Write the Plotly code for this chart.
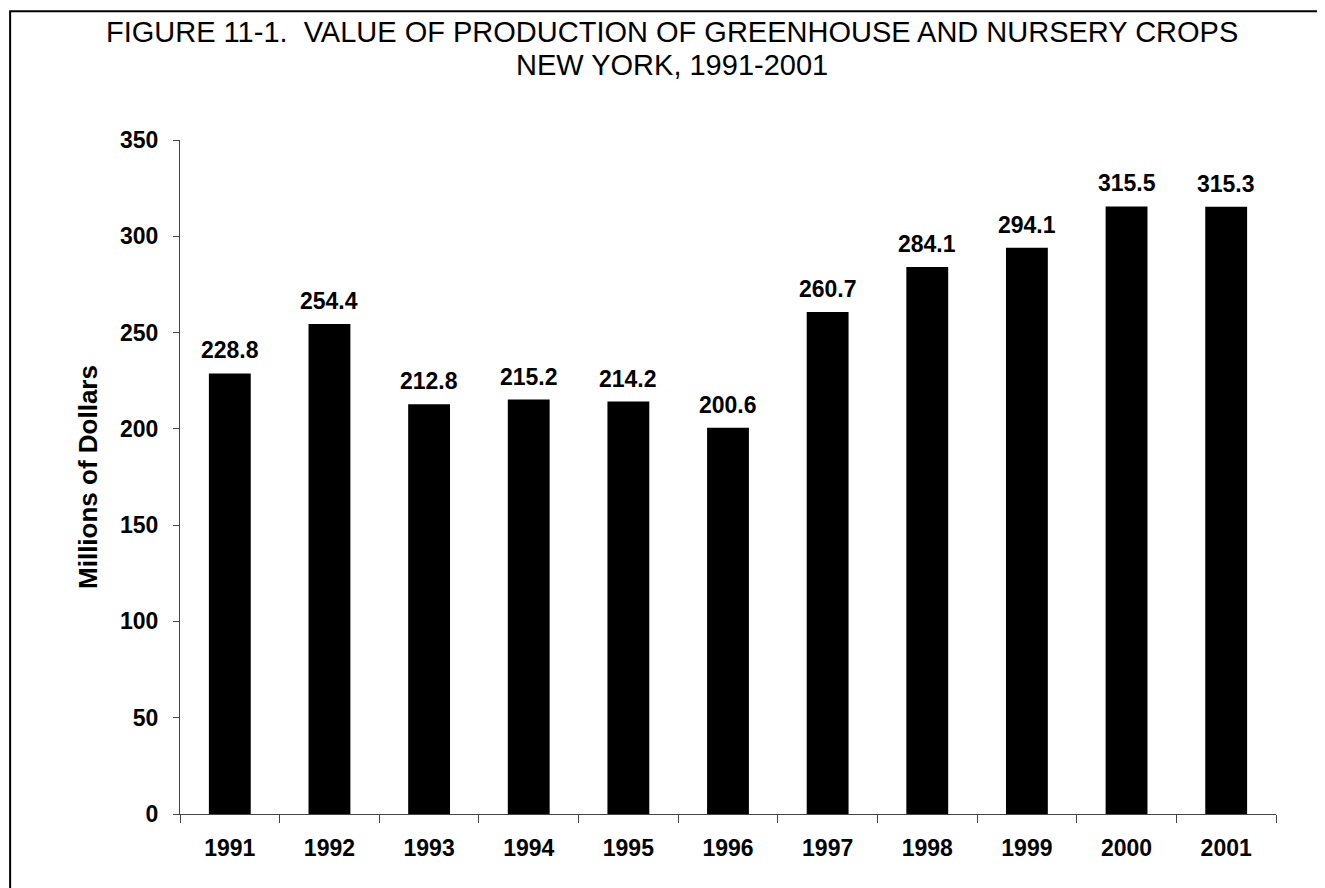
import plotly.graph_objects as go

years = ["1991", "1992", "1993", "1994", "1995", "1996", "1997", "1998", "1999", "2000", "2001"]
values = [228.8, 254.4, 212.8, 215.2, 214.2, 200.6, 260.7, 284.1, 294.1, 315.5, 315.3]
y_ticks = [0, 50, 100, 150, 200, 250, 300, 350]

FONT = "Liberation Sans, Arial, sans-serif"

fig = go.Figure(
    go.Bar(
        x=years,
        y=values,
        marker=dict(color="black", line=dict(width=0)),
        hoverinfo="x+y",
    )
)

# value labels above the bars (category index, so "1991" is not read as a number)
for i, v in enumerate(values):
    fig.add_annotation(
        x=i, y=v, xref="x", yref="y",
        text=f"{v:.1f}", showarrow=False,
        yanchor="bottom", yshift=8,
        font=dict(family=FONT, size=23, color="black", weight="bold"),
    )

# title, two lines
fig.add_annotation(
    x=0.449, y=1.160, xref="paper", yref="paper", xanchor="center", yanchor="middle",
    text="FIGURE 11-1.  VALUE OF PRODUCTION OF GREENHOUSE AND NURSERY CROPS",
    showarrow=False, font=dict(family=FONT, size=29, color="black"),
)
fig.add_annotation(
    x=0.449, y=1.111, xref="paper", yref="paper", xanchor="center", yanchor="middle",
    text="NEW YORK, 1991-2001",
    showarrow=False, font=dict(family=FONT, size=29, color="black"),
)

# frame around the chart
fig.add_shape(
    type="rect", xref="paper", yref="paper",
    x0=-0.155, x1=1.3, y0=-0.3, y1=1.191,
    line=dict(color="black", width=2), layer="below",
)

fig.update_layout(
    width=1317,
    height=880,
    margin=dict(l=172, r=49, t=132, b=74),
    plot_bgcolor="white",
    paper_bgcolor="white",
    showlegend=False,
    bargap=0.58,
)

fig.update_xaxes(
    type="category",
    showgrid=False,
    showline=True,
    linecolor="#444",
    linewidth=1,
    ticks="outside",
    tickson="boundaries",
    ticklen=8,
    tickcolor="#444",
    ticklabelstandoff=13,
    tickfont=dict(family=FONT, size=23, color="black", weight="bold"),
)
fig.update_yaxes(
    range=[0, 350],
    tickvals=y_ticks,
    showgrid=False,
    zeroline=False,
    showline=True,
    linecolor="#444",
    linewidth=1,
    ticks="outside",
    ticklen=6,
    tickcolor="#444",
    ticklabelstandoff=10,
    tickfont=dict(family=FONT, size=23, color="black", weight="bold"),
    title=dict(text="Millions of Dollars", font=dict(family=FONT, size=26, color="black", weight="bold"), standoff=14),
)

fig.write_html("out.html")
